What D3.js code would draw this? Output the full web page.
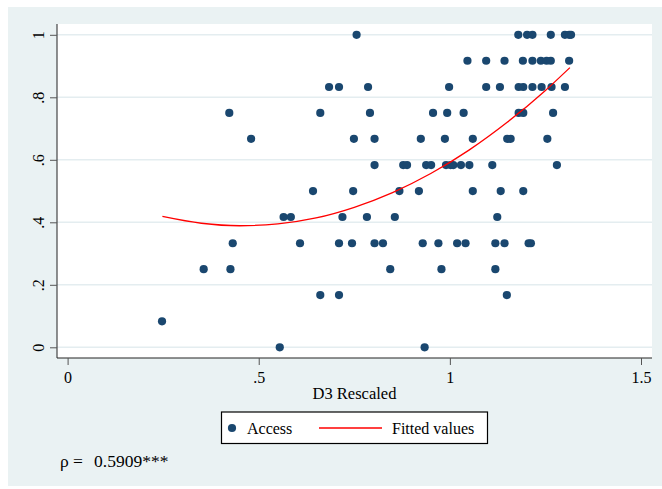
<!DOCTYPE html>
<html>
<head>
<meta charset="utf-8">
<script src="https://cdn.jsdelivr.net/npm/d3@7"></script>
<style>
  body { margin: 0; background: #fff; }
  svg { display: block; font-family: "Liberation Serif", "Times New Roman", serif; }
</style>
</head>
<body>
<svg width="662" height="489"></svg>
<script>
// Access share (y, in twelfths) and the D3 Rescaled values (x) of the points on each level
const accessLevels = [1, 0.917, 0.833, 0.75, 0.667, 0.583, 0.5, 0.417, 0.333, 0.25, 0.167, 0.083, 0];
const accessX = [
  [0.756, 1.179, 1.202, 1.216, 1.264, 1.301, 1.312, 1.317],
  [1.046, 1.095, 1.143, 1.191, 1.216, 1.238, 1.253, 1.264, 1.312],
  [0.684, 0.710, 0.786, 0.998, 1.095, 1.131, 1.180, 1.192, 1.216, 1.240, 1.266, 1.301],
  [0.423, 0.661, 0.791, 0.956, 0.993, 1.036, 1.180, 1.192, 1.270],
  [0.480, 0.749, 0.803, 0.924, 0.987, 1.060, 1.150, 1.159, 1.255],
  [0.803, 0.878, 0.888, 0.938, 0.951, 0.990, 1.002, 1.009, 1.029, 1.051, 1.111, 1.280],
  [0.642, 0.747, 0.868, 0.919, 1.060, 1.133, 1.192],
  [0.565, 0.584, 0.719, 0.783, 0.856, 1.124],
  [0.432, 0.608, 0.710, 0.744, 0.803, 0.825, 0.929, 0.970, 1.019, 1.041, 1.119, 1.143, 1.206, 1.212],
  [0.356, 0.426, 0.844, 0.978, 1.119],
  [0.661, 0.710, 1.149],
  [0.247],
  [0.555, 0.934]
];

// fitted values (quadratic fit)
const fitX = [0.248, 0.35, 0.45, 0.55, 0.65, 0.75, 0.85, 0.95, 1.05, 1.15, 1.25, 1.314];
const fitY = [0.419, 0.397, 0.389, 0.395, 0.414, 0.448, 0.495, 0.556, 0.631, 0.720, 0.822, 0.895];

const xTicks = [0, 0.5, 1, 1.5];
const xTickLabels = ["0", ".5", "1", "1.5"];
const yTicks = [0, 0.2, 0.4, 0.6, 0.8, 1];
const yTickLabels = ["0", ".2", ".4", ".6", ".8", "1"];

const svg = d3.select("svg");

const bg = "#eaf2f3";
const navy = "#1a476f";

// plot region box
const plot = { left: 57, right: 652, top: 24, bottom: 358 };

const x = d3.scaleLinear().domain([0, 1.5]).range([67.6, 641]);
const y = d3.scaleLinear().domain([0, 1]).range([347.3, 34.8]);

// graph region
svg.append("rect")
    .attr("x", 8).attr("y", 7)
    .attr("width", 654).attr("height", 479)
    .attr("fill", bg);

svg.append("rect")
    .attr("x", plot.left).attr("y", plot.top)
    .attr("width", plot.right - plot.left)
    .attr("height", plot.bottom - plot.top)
    .attr("fill", "#fff");

// grid lines
svg.append("g")
  .selectAll("line")
  .data(yTicks)
  .join("line")
    .attr("x1", plot.left).attr("x2", plot.right)
    .attr("y1", d => y(d)).attr("y2", d => y(d))
    .attr("stroke", "#e4edf0")
    .attr("stroke-width", 1.6);

// y axis
const yAxis = svg.append("g")
    .attr("transform", `translate(${plot.left},0)`)
    .call(d3.axisLeft(y).tickValues(yTicks).tickFormat((d, i) => yTickLabels[i]).tickSize(7).tickSizeOuter(0));
yAxis.select(".domain").attr("d", `M0,${plot.top}V${plot.bottom}`).attr("stroke", "#222");
yAxis.selectAll(".tick line").attr("stroke", "#555");
yAxis.selectAll(".tick text")
    .attr("font-family", "Liberation Serif")
    .attr("font-size", 16)
    .attr("fill", "#000")
    .attr("x", 0).attr("dy", 0)
    .attr("text-anchor", "middle")
    .attr("transform", "translate(-13,0) rotate(-90)");

// x axis
const xAxis = svg.append("g")
    .attr("transform", `translate(0,${plot.bottom})`)
    .call(d3.axisBottom(x).tickValues(xTicks).tickFormat((d, i) => xTickLabels[i]).tickSize(7).tickSizeOuter(0));
xAxis.select(".domain").attr("d", `M${plot.left},0H${plot.right}`).attr("stroke", "#222");
xAxis.selectAll(".tick line").attr("stroke", "#555");
xAxis.selectAll(".tick text")
    .attr("font-family", "Liberation Serif")
    .attr("font-size", 16)
    .attr("fill", "#000")
    .attr("y", 25).attr("dy", 0);

svg.append("text")
    .attr("x", (plot.left + plot.right) / 2)
    .attr("y", 399)
    .attr("text-anchor", "middle")
    .attr("font-size", 16.5)
    .text("D3 Rescaled");

// scatter
const points = [];
accessLevels.forEach((lv, i) => accessX[i].forEach(v => points.push({ x: v, y: lv })));

svg.append("g")
  .selectAll("circle")
  .data(points)
  .join("circle")
    .attr("cx", d => x(d.x))
    .attr("cy", d => y(d.y))
    .attr("r", 4.1)
    .attr("fill", navy);

// fitted curve
const fitLine = d3.line()
    .x((d, i) => x(fitX[i]))
    .y((d, i) => y(fitY[i]))
    .curve(d3.curveMonotoneX);

svg.append("path")
    .attr("d", fitLine(fitX))
    .attr("fill", "none")
    .attr("stroke", "#ff0000")
    .attr("stroke-width", 1.3);

// legend
const lg = svg.append("g");
lg.append("rect")
    .attr("x", 221.5).attr("y", 412)
    .attr("width", 266).attr("height", 31.5)
    .attr("fill", "#fff")
    .attr("stroke", "#000")
    .attr("stroke-width", 1.2);
lg.append("circle")
    .attr("cx", 232).attr("cy", 428)
    .attr("r", 4.1)
    .attr("fill", navy);
lg.append("text")
    .attr("x", 247).attr("y", 434)
    .attr("font-size", 16)
    .text("Access");
lg.append("line")
    .attr("x1", 319).attr("x2", 382)
    .attr("y1", 428).attr("y2", 428)
    .attr("stroke", "#ff0000")
    .attr("stroke-width", 1.3);
lg.append("text")
    .attr("x", 392).attr("y", 434)
    .attr("font-size", 16)
    .text("Fitted values");

// correlation note
svg.append("text")
    .attr("x", 60).attr("y", 467)
    .attr("font-size", 17.5)
    .text("ρ =");
svg.append("text")
    .attr("x", 94).attr("y", 467)
    .attr("font-size", 17.5)
    .text("0.5909***");
</script>
</body>
</html>
